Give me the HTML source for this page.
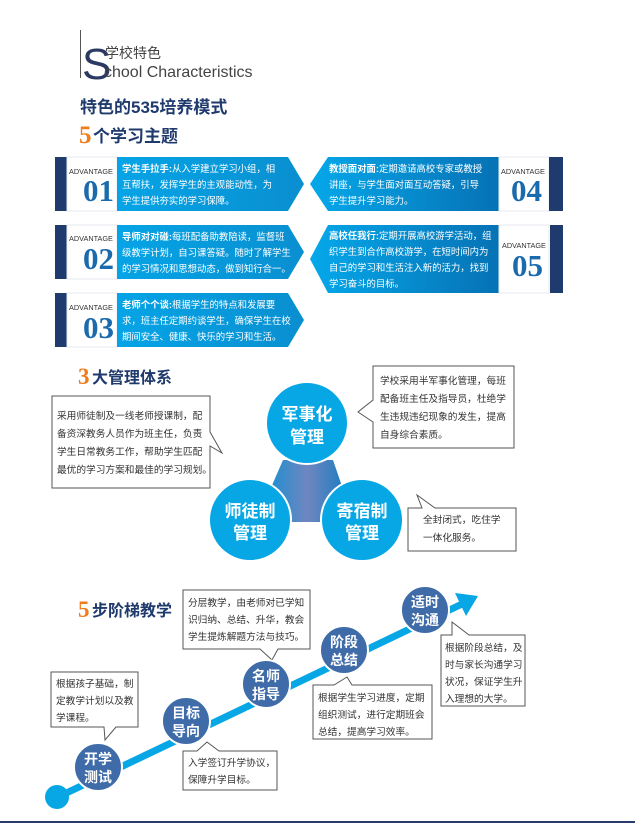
<!DOCTYPE html>
<html><head><meta charset="utf-8"><style>
body{margin:0;background:#fff}
svg{display:block}
text{font-family:"Liberation Sans","Noto Sans CJK SC",sans-serif}
.w{fill:#fff;font-size:9.4px}
.b{font-weight:bold}
.k{fill:#333;font-size:9.7px}
.adv{fill:#333;font-size:7.3px}
.num{font-family:"Liberation Serif",serif;font-size:31px;font-weight:bold;fill:#1a6aad}
.ct{fill:#fff;font-size:17px;font-weight:bold;text-anchor:middle}
.st{fill:#fff;font-size:14px;font-weight:bold;text-anchor:middle}
.box{fill:#fff;stroke:#555;stroke-width:1}
</style></head><body>
<svg width="635" height="827" viewBox="0 0 635 827">
<defs>
<linearGradient id="bl" x1="0" x2="1"><stop offset="0" stop-color="#05a4e6"/><stop offset="1" stop-color="#0a8fd0"/></linearGradient>
<linearGradient id="br" x1="0" x2="1"><stop offset="0" stop-color="#05a8ea"/><stop offset="1" stop-color="#0672b5"/></linearGradient>
<linearGradient id="tri" x1="0" x2="1"><stop offset="0" stop-color="#1f8fd0"/><stop offset="0.5" stop-color="#6f86c0"/><stop offset="1" stop-color="#1e7cc0"/></linearGradient>
</defs>
<line x1="80.5" y1="30" x2="80.5" y2="78" stroke="#555" stroke-width="1"/>
<text x="82" y="79" style="font-size:44px;fill:#2b3a63">S</text>
<text x="105" y="58" style="font-size:14px;fill:#444">学校特色</text>
<text x="104" y="77" style="font-size:16px;fill:#444">chool Characteristics</text>
<text x="80" y="113" style="font-size:17px;font-weight:bold;fill:#1f3a6d">特色的535培养模式</text>
<text x="79" y="143" style="font-size:25px;font-weight:bold;fill:#f07c1c;font-family:'Liberation Serif',serif">5</text>
<text x="93" y="142" style="font-size:17px;font-weight:bold;fill:#1f3a6d">个学习主题</text>

<g>
<rect x="55" y="157" width="12" height="54" fill="#1f3a6d"/><rect x="67" y="157" width="50" height="54" fill="#fff" stroke="#e5e8ef"/>
<polygon points="117,157 288,157 304,184 288,211 117,211" fill="url(#bl)"/>
<text x="69" y="174" class="adv">ADVANTAGE</text><text x="83" y="201" class="num">01</text>
<text x="122" y="172" class="w"><tspan class="b">学生手拉手:</tspan>从入学建立学习小组，相</text>
<text x="122" y="188" class="w">互帮扶，发挥学生的主观能动性，为</text>
<text x="122" y="204" class="w">学生提供夯实的学习保障。</text>

<rect x="55" y="225" width="12" height="54" fill="#1f3a6d"/><rect x="67" y="225" width="50" height="54" fill="#fff" stroke="#e5e8ef"/>
<polygon points="117,225 288,225 304,252 288,279 117,279" fill="url(#bl)"/>
<text x="69" y="241" class="adv">ADVANTAGE</text><text x="83" y="269" class="num">02</text>
<text x="122" y="240" class="w"><tspan class="b">导师对对碰:</tspan>每班配备助教陪读，监督班</text>
<text x="122" y="256" class="w">级教学计划，自习课答疑。随时了解学生</text>
<text x="122" y="272" class="w">的学习情况和思想动态，做到知行合一。</text>

<rect x="55" y="293" width="12" height="54" fill="#1f3a6d"/><rect x="67" y="293" width="50" height="54" fill="#fff" stroke="#e5e8ef"/>
<polygon points="117,293 288,293 304,320 288,347 117,347" fill="url(#bl)"/>
<text x="69" y="310" class="adv">ADVANTAGE</text><text x="83" y="338" class="num">03</text>
<text x="122" y="308" class="w"><tspan class="b">老师个个谈:</tspan>根据学生的特点和发展要</text>
<text x="122" y="324" class="w">求，班主任定期约谈学生，确保学生在校</text>
<text x="122" y="340" class="w">期间安全、健康、快乐的学习和生活。</text>
</g>
<g>
<polygon points="328,157 499,157 499,211 328,211 310,184" fill="url(#br)"/>
<rect x="499" y="157" width="50" height="54" fill="#fff" stroke="#e5e8ef"/><rect x="549" y="157" width="14" height="54" fill="#1f3a6d"/>
<text x="501" y="174" class="adv">ADVANTAGE</text><text x="511" y="201" class="num">04</text>
<text x="329" y="172" class="w"><tspan class="b">教授面对面:</tspan>定期邀请高校专家或教授</text>
<text x="329" y="188" class="w">讲座，与学生面对面互动答疑，引导</text>
<text x="329" y="204" class="w">学生提升学习能力。</text>

<polygon points="328,225 499,225 499,293 328,293 310,259" fill="url(#br)"/>
<rect x="499" y="225" width="50" height="68" fill="#fff" stroke="#e5e8ef"/><rect x="550" y="225" width="13" height="68" fill="#1f3a6d"/>
<text x="502" y="248" class="adv">ADVANTAGE</text><text x="512" y="276" class="num">05</text>
<text x="329" y="239" class="w"><tspan class="b">高校任我行:</tspan>定期开展高校游学活动，组</text>
<text x="329" y="255" class="w">织学生到合作高校游学，在短时间内为</text>
<text x="329" y="271" class="w">自己的学习和生活注入新的活力，找到</text>
<text x="329" y="287" class="w">学习奋斗的目标。</text>
</g>

<text x="78" y="384" style="font-size:23px;font-weight:bold;fill:#f07c1c;font-family:'Liberation Serif',serif">3</text>
<text x="92" y="383" style="font-size:16px;font-weight:bold;fill:#1f3a6d">大管理体系</text>
<path d="M52,396 H210 V432 L222,453 L210,446 V488 H52 Z" class="box"/>
<text x="57" y="419" class="k">采用师徒制及一线老师授课制，配</text>
<text x="57" y="437" class="k">备资深教务人员作为班主任，负责</text>
<text x="57" y="455" class="k">学生日常教务工作，帮助学生匹配</text>
<text x="57" y="473" class="k">最优的学习方案和最佳的学习规划。</text>
<path d="M373,366 H514 V448 H373 V422 L358,412 L373,400 Z" class="box"/>
<text x="380" y="384" class="k">学校采用半军事化管理，每班</text>
<text x="380" y="402" class="k">配备班主任及指导员，杜绝学</text>
<text x="380" y="420" class="k">生违规违纪现象的发生，提高</text>
<text x="380" y="438" class="k">自身综合素质。</text>
<path d="M417,495 L435,508 H516 V551 H408 V508 H422 Z" class="box"/>
<text x="423" y="523" class="k">全封闭式，吃住学</text>
<text x="423" y="541" class="k">一体化服务。</text>
<polygon points="283,460 333,460 345,495 330,522 290,522 270,490" fill="url(#tri)"/>
<circle cx="307" cy="423" r="41" fill="#07a7e6" stroke="#fff" stroke-width="2"/>
<circle cx="250" cy="520" r="41" fill="#07a7e6" stroke="#fff" stroke-width="2"/>
<circle cx="362" cy="520" r="41" fill="#07a7e6" stroke="#fff" stroke-width="2"/>
<text x="307" y="420" class="ct">军事化</text><text x="307" y="443" class="ct">管理</text>
<text x="250" y="517" class="ct">师徒制</text><text x="250" y="539" class="ct">管理</text>
<text x="362" y="517" class="ct">寄宿制</text><text x="362" y="539" class="ct">管理</text>

<text x="78" y="617" style="font-size:23px;font-weight:bold;fill:#f07c1c;font-family:'Liberation Serif',serif">5</text>
<text x="92" y="616" style="font-size:16px;font-weight:bold;fill:#1f3a6d">步阶梯教学</text>
<line x1="58" y1="797" x2="462" y2="604" stroke="#07a7e6" stroke-width="7"/>
<polygon points="478,596 455,593 466,616" fill="#07a7e6"/>
<circle cx="57" cy="797" r="12" fill="#07a7e6"/>
<path d="M51,672 H138 V727 H116 L105,740 L104,727 H51 Z" class="box"/>
<text x="56" y="687" class="k">根据孩子基础，制</text><text x="56" y="704" class="k">定教学计划以及教</text><text x="56" y="721" class="k">学课程。</text>
<path d="M183,590 H310 V649 H278 L272,660 L260,649 H183 Z" class="box"/>
<text x="188" y="606" class="k">分层教学，由老师对已学知</text><text x="188" y="623" class="k">识归纳、总结、升华，教会</text><text x="188" y="640" class="k">学生提炼解题方法与技巧。</text>
<path d="M183,751 H197 L207,742 L219,751 H277 V790 H183 Z" class="box"/>
<text x="188" y="766" class="k">入学签订升学协议，</text><text x="188" y="783" class="k">保障升学目标。</text>
<path d="M313,685 H334 L347,677 L352,685 H432 V739 H313 Z" class="box"/>
<text x="318" y="701" class="k">根据学生学习进度，定期</text><text x="318" y="718" class="k">组织测试，进行定期班会</text><text x="318" y="735" class="k">总结，提高学习效率。</text>
<path d="M441,635 H452 L452,622 L469,635 H525 V706 H441 Z" class="box"/>
<text x="445" y="651" class="k">根据阶段总结，及</text><text x="445" y="668" class="k">时与家长沟通学习</text><text x="445" y="685" class="k">状况，保证学生升</text><text x="445" y="702" class="k">入理想的大学。</text>
<g fill="#3f6ca8" stroke="#fff" stroke-width="2">
<circle cx="98" cy="767" r="24"/><circle cx="186" cy="721" r="24"/><circle cx="266" cy="684" r="24"/><circle cx="344" cy="650" r="24"/><circle cx="425" cy="610" r="24"/>
</g>
<text x="98" y="764" class="st">开学</text><text x="98" y="782" class="st">测试</text>
<text x="186" y="718" class="st">目标</text><text x="186" y="736" class="st">导向</text>
<text x="266" y="681" class="st">名师</text><text x="266" y="699" class="st">指导</text>
<text x="344" y="647" class="st">阶段</text><text x="344" y="665" class="st">总结</text>
<text x="425" y="607" class="st">适时</text><text x="425" y="625" class="st">沟通</text>
<rect x="0" y="821" width="635" height="2" fill="#2b3a6d"/>
</svg>
</body></html>
